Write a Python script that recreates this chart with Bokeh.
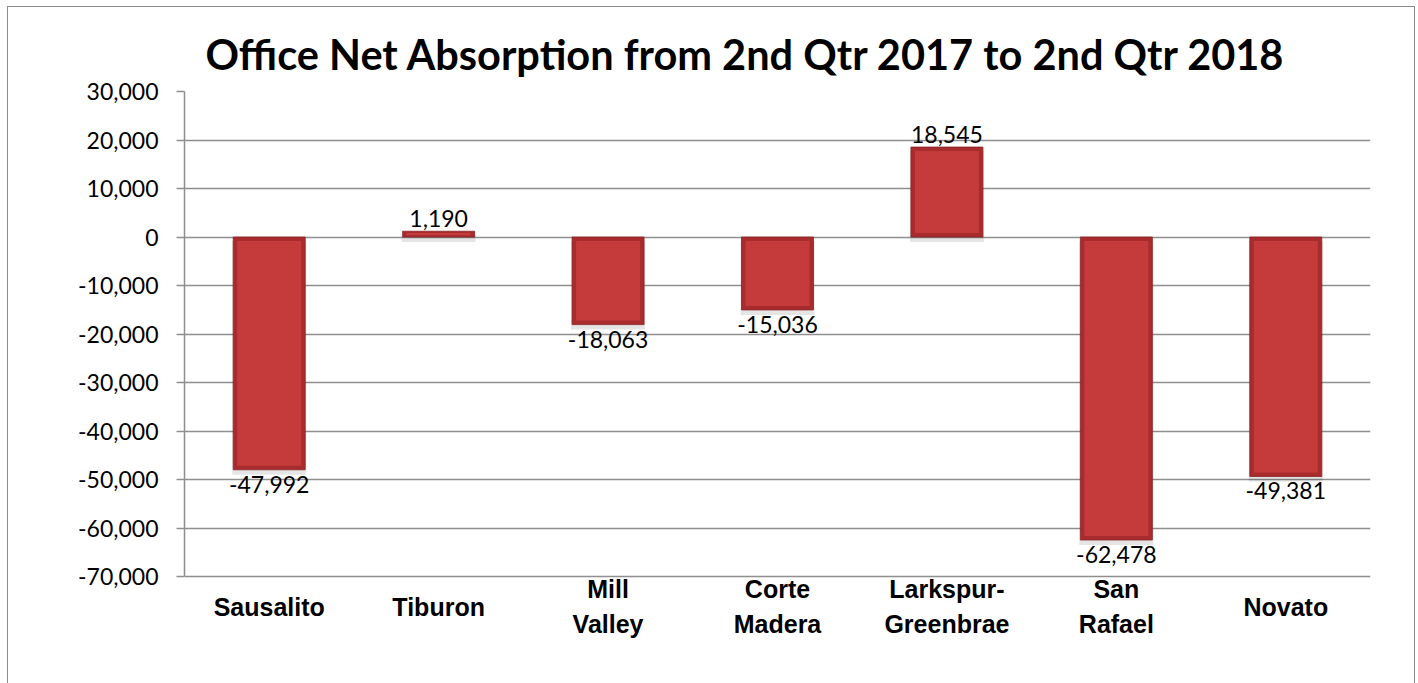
from bokeh.plotting import figure
from bokeh.models import (ColumnDataSource, FactorRange, Range1d, NumeralTickFormatter,
                          FixedTicker, Title)
from bokeh.embed import file_html
from bokeh.resources import INLINE
from bokeh.core.properties import value

# ---- data ----
categories = ["Sausalito", "Tiburon", "Mill Valley", "Corte Madera",
              "Larkspur-Greenbrae", "San Rafael", "Novato"]
cat_labels = ["Sausalito", "Tiburon", "Mill\nValley", "Corte\nMadera",
              "Larkspur-\nGreenbrae", "San\nRafael", "Novato"]
absorption = [-47992, 1190, -18063, -15036, 18545, -62478, -49381]
y_ticks = [30000, 20000, 10000, 0, -10000, -20000, -30000, -40000, -50000, -60000, -70000]
title_text = "Office Net Absorption from 2nd Qtr 2017 to 2nd Qtr 2018"

# figure placed at (8,7) in the window, bordered by CSS
OX, OY = 8, 7
W, H = 1414 - OX, 683 - OY
FL, FR, FT, FB = 184 - OX, 1370 - OX, 91 - OY, 576 - OY   # plot-area edges in px
ymin, ymax = min(y_ticks), max(y_ticks)
upp = (ymax - ymin) / (FB - FT)        # data units per px (y)
cpp = len(categories) / (FR - FL)      # category units per px (x)
ybottom = ymin - (H - FB) * upp        # frame extends down to hold category labels

p = figure(width=W, height=H, x_range=FactorRange(*categories, range_padding=0),
           y_range=Range1d(ybottom, ymax), output_backend="svg", toolbar_location=None,
           min_border_left=FL, min_border_right=W - FR, min_border_top=FT,
           min_border_bottom=0)
p.styles = {"margin-left": f"{OX}px", "margin-top": f"{OY}px",
            "outline": "1.5px solid #8c8c8c"}
p.outline_line_color = None
p.background_fill_color = "white"
p.border_fill_color = "white"

# title
p.title = Title(text=title_text, align="left", text_font="Lato",
                text_font_style="bold", text_font_size="41.5px", text_color="black",
                offset=21, standoff=25)

# grid
p.xgrid.grid_line_color = None
p.ygrid.grid_line_color = "#8f8f8f"
p.ygrid.grid_line_width = 1.5
p.yaxis.ticker = FixedTicker(ticks=y_ticks)
p.ygrid.ticker = FixedTicker(ticks=y_ticks)

# y axis
ax = p.yaxis[0]
ax.bounds = (ymin, ymax)
ax.formatter = NumeralTickFormatter(format="0,0")
ax.axis_line_color = "#8f8f8f"
ax.axis_line_width = 1.5
ax.major_tick_line_color = "#8f8f8f"
ax.major_tick_line_width = 1.5
ax.major_tick_out = 8
ax.major_tick_in = 0
ax.minor_tick_line_color = None
ax.major_label_text_font = "Lato"
ax.major_label_text_font_size = "23px"
ax.major_label_text_color = "black"
ax.major_label_standoff = 18
p.xaxis.visible = False

# bars (bevelled look)
pos_top = [max(v, 0) for v in absorption]
neg_bot = [min(v, 0) for v in absorption]
inner_top, inner_bot = [], []
for t, b in zip(pos_top, neg_bot):
    inset = min(4 * upp, (t - b) * 0.3)
    inner_top.append(t - inset)
    inner_bot.append(b + inset)
src = ColumnDataSource(dict(cat=categories, top=pos_top, bot=neg_bot,
                            sh_top=[t - 4 * upp for t in pos_top],
                            sh_bot=[b - 5 * upp for b in neg_bot],
                            in_top=inner_top, in_bot=inner_bot))
bw = 72 * cpp
p.vbar(x="cat", top="sh_top", bottom="sh_bot", width=bw + 2 * cpp, source=src,
       fill_color="black", fill_alpha=0.10, line_color=None)
p.vbar(x="cat", top="top", bottom="bot", width=bw, source=src,
       fill_color="#a82c2e", line_color="#8a2224", line_width=0.8)
p.vbar(x="cat", top="in_top", bottom="in_bot", width=bw - 8 * cpp, source=src,
       fill_color="#c53a3b", line_color=None)

# value labels
lab_txt = [f"{v:,}" for v in absorption]
pos_src = ColumnDataSource(dict(cat=[c for c, v in zip(categories, absorption) if v >= 0],
                                y=[v for v in absorption if v >= 0],
                                t=[t for t, v in zip(lab_txt, absorption) if v >= 0]))
neg_src = ColumnDataSource(dict(cat=[c for c, v in zip(categories, absorption) if v < 0],
                                y=[v for v in absorption if v < 0],
                                t=[t for t, v in zip(lab_txt, absorption) if v < 0]))
p.text(x="cat", y="y", text="t", source=pos_src, text_align="center",
       text_baseline="bottom", y_offset=-4, text_font=value("Lato"),
       text_font_size="23px", text_color="black")
p.text(x="cat", y="y", text="t", source=neg_src, text_align="center",
       text_baseline="top", y_offset=6, text_font=value("Lato"),
       text_font_size="23px", text_color="black")

# category labels below the plot area
cat_src = ColumnDataSource(dict(cat=categories, lab=cat_labels,
                                y=[ymin - 30 * upp] * len(categories)))
p.text(x="cat", y="y", text="lab", source=cat_src, text_align="center",
       text_baseline="middle", text_font=value("Liberation Sans"),
       text_font_style="bold", text_font_size="25px", text_line_height=1.25,
       text_color="black")

open("out.html", "w").write(file_html(p, INLINE))
